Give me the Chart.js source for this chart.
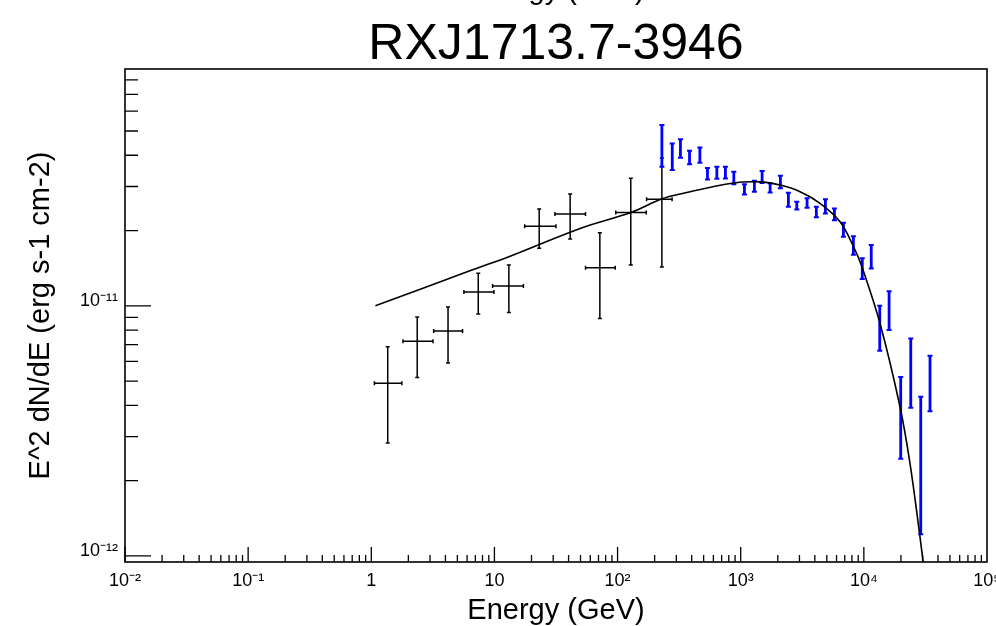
<!DOCTYPE html>
<html>
<head>
<meta charset="utf-8">
<title>RXJ1713.7-3946</title>
<script src="https://cdn.jsdelivr.net/npm/chart.js@4.4.1/dist/chart.umd.min.js"></script>
<style>
  html, body { margin: 0; padding: 0; background: #fff; }
  #wrap { width: 996px; height: 626px; }
</style>
</head>
<body>
<div id="wrap"><canvas id="sed" width="996" height="626"></canvas></div>
<script>
// Fermi-LAT points (black crosses)
const fermiE   = [1.36, 2.36, 4.2, 7.39, 13.1, 23.1, 41.2, 71.8, 128, 229];
const fermiElo = [1.06, 1.81, 3.21, 5.65, 9.66, 17.6, 31.0, 54.9, 96.7, 172];
const fermiEhi = [1.77, 3.17, 5.51, 9.91, 17.2, 31.6, 54.9, 95.7, 171, 277];
const fermiF   = [4.9e-12, 7.22e-12, 7.94e-12, 1.135e-11, 1.2e-11, 2.08e-11, 2.33e-11, 1.42e-11, 2.36e-11, 2.67e-11];
const fermiFlo = [2.83e-12, 5.17e-12, 5.91e-12, 9.27e-12, 9.4e-12, 1.7e-11, 1.85e-11, 8.91e-12, 1.455e-11, 1.43e-11];
const fermiFhi = [6.86e-12, 9.03e-12, 9.9e-12, 1.349e-11, 1.455e-11, 2.44e-11, 2.8e-11, 1.96e-11, 3.24e-11, 3.9e-11];

// H.E.S.S. points (blue bars)
const hessE  = [229, 278, 324, 384, 466, 537, 640, 751, 879, 1072, 1292, 1492, 1733, 2100, 2438,
                2853, 3458, 4113, 4872, 5768, 6823, 8224, 9707, 11480, 13460, 16030, 19920, 24040, 28970, 34450];
const hessF  = [4.3e-11, 3.95e-11, 4.25e-11, 3.92e-11, 4.0e-11, 3.38e-11, 3.4e-11, 3.41e-11, 3.25e-11, 2.92e-11,
                3.0e-11, 3.28e-11, 2.96e-11, 3.12e-11, 2.65e-11, 2.52e-11, 2.58e-11, 2.37e-11, 2.5e-11, 2.32e-11,
                2.02e-11, 1.75e-11, 1.41e-11, 1.57e-11, 8.2e-12, 9.6e-12, 3.6e-12, 5.4e-12, 2.4e-12, 4.9e-12];
const hessLo = [3.6e-11, 3.49e-11, 3.91e-11, 3.68e-11, 3.73e-11, 3.2e-11, 3.22e-11, 3.23e-11, 3.06e-11, 2.79e-11,
                2.86e-11, 3.1e-11, 2.84e-11, 2.95e-11, 2.49e-11, 2.43e-11, 2.47e-11, 2.26e-11, 2.34e-11, 2.2e-11,
                1.89e-11, 1.6e-11, 1.28e-11, 1.41e-11, 6.61e-12, 8.0e-12, 2.45e-12, 3.91e-12, 1.22e-12, 3.79e-12];
const hessHi = [5.28e-11, 4.46e-11, 4.63e-11, 4.17e-11, 4.3e-11, 3.56e-11, 3.6e-11, 3.6e-11, 3.44e-11, 3.06e-11,
                3.16e-11, 3.46e-11, 3.09e-11, 3.31e-11, 2.83e-11, 2.61e-11, 2.69e-11, 2.49e-11, 2.67e-11, 2.45e-11,
                2.15e-11, 1.9e-11, 1.55e-11, 1.75e-11, 1.0e-11, 1.145e-11, 5.2e-12, 7.41e-12, 4.33e-12, 6.31e-12];

// model curve
const curveE = [1.08, 6.56, 13.4, 49.7, 128, 229, 322, 873, 1437, 2089, 3034, 4406, 6406, 8222, 9612, 13530, 19670, 23710, 28580, 31400];
const curveF = [1.0e-11, 1.39e-11, 1.58e-11, 2.04e-11, 2.36e-11, 2.68e-11, 2.8e-11, 3.1e-11, 3.13e-11, 3.04e-11,
                2.86e-11, 2.57e-11, 2.17e-11, 1.73e-11, 1.44e-11, 8.5e-12, 3.94e-12, 2.34e-12, 1.19e-12, 8.2e-13];

// axis ticks
const xTicks = [1e-2, 1e-1, 1, 10, 1e2, 1e3, 1e4, 1e5];
const xTickLabels = ['10\u207B\u00B2', '10\u207B\u00B9', '1', '10', '10\u00B2', '10\u00B3', '10\u2074', '10\u2075'];
const yTicks = [1e-12, 1e-11];
const yTickLabels = ['10\u207B\u00B9\u00B2', '10\u207B\u00B9\u00B9'];

const FONT = '"Liberation Sans", Arial, Helvetica, sans-serif';

// ROOT-like frame with inward ticks
const rootFrame = {
    id: 'rootFrame',
    afterDraw(chart) {
        const {ctx, chartArea: a, scales: {x, y}} = chart;
        ctx.save();
        ctx.strokeStyle = '#000';
        ctx.lineWidth = 1.6;
        ctx.strokeRect(a.left, a.top, a.right - a.left, a.bottom - a.top);

        ctx.lineWidth = 1.3;
        ctx.beginPath();
        for (let d = -2; d < 5; d++) {
            for (let m = 1; m < 10; m++) {
                const px = x.getPixelForValue(m * Math.pow(10, d));
                const len = m === 1 ? 15 : 7;
                ctx.moveTo(px, a.bottom);
                ctx.lineTo(px, a.bottom - len);
            }
        }
        for (let d = -13; d < -10; d++) {
            for (let m = 1; m < 10; m++) {
                const v = m * Math.pow(10, d);
                if (v < y.min || v > y.max) continue;
                const py = y.getPixelForValue(v);
                const len = m === 1 ? 26 : 13;
                ctx.moveTo(a.left, py);
                ctx.lineTo(a.left + len, py);
            }
        }
        ctx.stroke();

        // clipped axis title from an overlaid pad, only its descenders show
        ctx.fillStyle = '#000';
        ctx.font = '29px ' + FONT;
        ctx.textAlign = 'center';
        ctx.textBaseline = 'alphabetic';
        ctx.fillText('Energy (GeV)', (a.left + a.right) / 2, -1);
        ctx.restore();
    }
};

const errorBars = {
    id: 'errorBars',
    beforeDatasetsDraw(chart) {
        const {ctx, chartArea: a, scales: {x, y}} = chart;
        ctx.save();
        ctx.beginPath();
        ctx.rect(a.left, a.top, a.right - a.left, a.bottom - a.top);
        ctx.clip();

        ctx.strokeStyle = '#000';
        ctx.lineWidth = 1.5;
        fermiE.forEach((e, i) => {
            const px = x.getPixelForValue(e);
            const py = y.getPixelForValue(fermiF[i]);
            const x0 = x.getPixelForValue(fermiElo[i]);
            const x1 = x.getPixelForValue(fermiEhi[i]);
            const y0 = y.getPixelForValue(fermiFlo[i]);
            const y1 = y.getPixelForValue(fermiFhi[i]);
            ctx.beginPath();
            ctx.moveTo(x0, py); ctx.lineTo(x1, py);
            ctx.moveTo(px, y0); ctx.lineTo(px, y1);
            ctx.moveTo(x0, py - 2); ctx.lineTo(x0, py + 2);
            ctx.moveTo(x1, py - 2); ctx.lineTo(x1, py + 2);
            ctx.moveTo(px - 2, y0); ctx.lineTo(px + 2, y0);
            ctx.moveTo(px - 2, y1); ctx.lineTo(px + 2, y1);
            ctx.stroke();
        });

        ctx.strokeStyle = '#0000ff';
        hessE.forEach((e, i) => {
            const px = x.getPixelForValue(e);
            const y0 = y.getPixelForValue(hessLo[i]);
            const y1 = y.getPixelForValue(hessHi[i]);
            ctx.lineWidth = 2.8;
            ctx.beginPath();
            ctx.moveTo(px, y0); ctx.lineTo(px, y1);
            ctx.stroke();
            ctx.lineWidth = 2;
            ctx.beginPath();
            ctx.moveTo(px - 2.5, y0); ctx.lineTo(px + 2.5, y0);
            ctx.moveTo(px - 2.5, y1); ctx.lineTo(px + 2.5, y1);
            ctx.stroke();
        });
        ctx.restore();
    }
};

const ctx = document.getElementById('sed').getContext('2d');
const chart = new Chart(ctx, {
    type: 'scatter',
    data: {
        datasets: [{
            label: 'Fermi-LAT',
            data: fermiE.map((e, i) => ({x: e, y: fermiF[i]})),
            pointRadius: 0,
            showLine: false
        }, {
            label: 'H.E.S.S.',
            data: hessE.map((e, i) => ({x: e, y: hessF[i]})),
            pointRadius: 0,
            showLine: false
        }, {
            label: 'model',
            data: curveE.map((e, i) => ({x: e, y: curveF[i]})),
            showLine: true,
            pointRadius: 0,
            borderColor: '#000',
            borderWidth: 1.6,
            tension: 0.35,
            fill: false
        }]
    },
    options: {
        responsive: false,
        animation: false,
        events: [],
        layout: { padding: { left: 0, right: 9, top: 0, bottom: 0 } },
        plugins: {
            legend: { display: false },
            tooltip: { enabled: false },
            title: {
                display: true,
                text: 'RXJ1713.7-3946',
                fullSize: false,
                color: '#000',
                font: { family: FONT, size: 50, weight: 'normal', lineHeight: 0.86 },
                padding: { top: 24, bottom: 2 }
            }
        },
        scales: {
            x: {
                type: 'logarithmic',
                position: 'bottom',
                min: 1e-2,
                max: 1e5,
                grid: { display: false, drawTicks: false },
                border: { display: false },
                afterBuildTicks: s => { s.ticks = xTicks.map(v => ({value: v})); },
                afterFit: s => { s.height = 64; s.paddingLeft = 0; s.paddingRight = 0; },
                ticks: {
                    color: '#000',
                    font: { family: FONT, size: 18 },
                    padding: 8,
                    maxRotation: 0,
                    autoSkip: false,
                    callback: (v, i) => xTickLabels[i]
                },
                title: {
                    display: true,
                    text: 'Energy (GeV)',
                    color: '#000',
                    font: { family: FONT, size: 29, lineHeight: 1.0 },
                    padding: { top: 0, bottom: 1 }
                }
            },
            y: {
                type: 'logarithmic',
                min: 0.946e-12,
                max: 8.85e-11,
                grid: { display: false, drawTicks: false },
                border: { display: false },
                afterBuildTicks: s => { s.ticks = yTicks.map(v => ({value: v})); },
                afterFit: s => { s.width = 125; s.paddingTop = 0; s.paddingBottom = 0; },
                ticks: {
                    color: '#000',
                    font: { family: FONT, size: 18 },
                    padding: 7,
                    labelOffset: -5,
                    autoSkip: false,
                    callback: (v, i) => yTickLabels[i]
                },
                title: {
                    display: true,
                    text: 'E^2 dN/dE (erg s-1 cm-2)',
                    color: '#000',
                    font: { family: FONT, size: 29, lineHeight: 1.0 },
                    padding: { top: 26, bottom: 0 }
                }
            }
        }
    },
    plugins: [errorBars, rootFrame]
});
</script>
</body>
</html>
